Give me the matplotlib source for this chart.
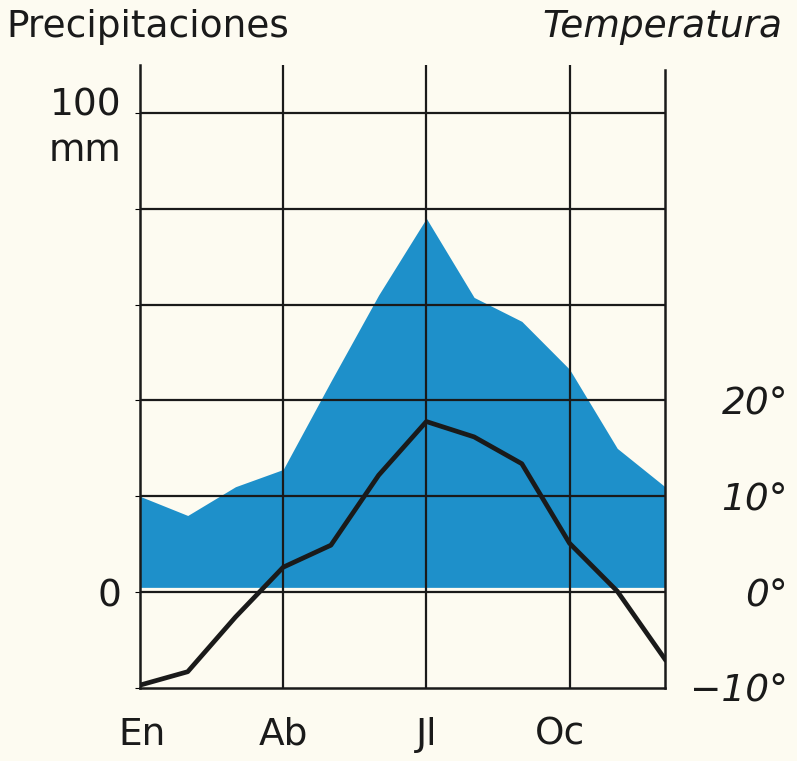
import matplotlib
matplotlib.use("Agg")
import matplotlib.pyplot as plt
import matplotlib.transforms as mtransforms

# ---- data ----
months = list(range(1, 13))
month_ticks = [1, 4, 7, 10]
month_labels = ["En", "Ab", "Jl", "Oc"]
precip_mm = [20, 16, 22, 25.6, 44, 62, 78, 61.5, 56.5, 46.5, 30, 22]
temp_c = [-9.7, -8.3, -2.6, 2.6, 4.9, 12.2, 17.8, 16.2, 13.4, 5.1, 0.1, -7.0]
precip_ticks = [0, 20, 40, 60, 80, 100]
temp_ticks = [-10, 0, 10, 20]
temp_labels = ["\u221210\u00b0", "0\u00b0", "10\u00b0", "20\u00b0"]

bg = "#FDFBF1"
blue = "#1E90CA"
ink = "#1a1a1a"
font = "DejaVu Sans"
fs = 27

fig = plt.figure(figsize=(7.97, 7.61), dpi=100, facecolor=bg)
ax = fig.add_axes([140/797, 73/761, 525/797, 623/761])
ax.set_facecolor(bg)
ax.set_xlim(1, 12)
ax.set_ylim(-20, 110)

# precipitation fill
ax.fill_between(months, 1.0, precip_mm, color=blue, linewidth=0, zorder=1)

# grid
for v in precip_ticks:
    ax.plot([1, 12], [v, v], color=ink, lw=1.6, zorder=2, solid_capstyle="butt")
for m in month_ticks[1:]:
    ax.axvline(m, color=ink, lw=1.6, zorder=2)

ax.spines["top"].set_visible(False)
for s in ["left", "right", "bottom"]:
    ax.spines[s].set_color(ink)
    ax.spines[s].set_linewidth(1.8)
ax.spines["right"].set_bounds(-20, 109)
ax.tick_params(left=False, bottom=False, labelleft=False, labelbottom=False)

# temperature on twin axis
ax2 = ax.twinx()
ax2.set_ylim(-10, 55)
ax2.plot(months, temp_c, color=ink, lw=3.4, zorder=5, solid_joinstyle="round")
for s in ax2.spines.values():
    s.set_visible(False)
ax2.set_yticks(temp_ticks)
ax2.set_yticklabels(temp_labels, fontsize=fs, family=font, style="italic", color=ink)
ax2.tick_params(right=False, pad=85, labelright=True)
for lab in ax2.get_yticklabels():
    lab.set_horizontalalignment("right")

# x labels
xt = mtransforms.blended_transform_factory(ax.transData, ax.transAxes)
for m, lab in zip(month_ticks, month_labels):
    off = 0.05 if lab == "En" else (-0.2 if lab == "Oc" else 0)
    ax.text(m + off, -0.075, lab, transform=xt, ha="center", va="center",
            fontsize=fs, family=font, color=ink)

# left labels
yt = mtransforms.blended_transform_factory(ax.transAxes, ax.transData)
ax.text(-0.035, 101.5, "100", transform=yt, ha="right", va="center", fontsize=fs, family=font, color=ink)
ax.text(-0.035, 92.0, "mm", transform=yt, ha="right", va="center", fontsize=fs, family=font, color=ink)
ax.text(-0.035, -1.0, "0", transform=yt, ha="right", va="center", fontsize=fs, family=font, color=ink)

# titles
fig.text(6/797, 1 - 27/761, "Precipitaciones", ha="left", va="center", fontsize=fs, family=font, color=ink)
fig.text(782/797, 1 - 27/761, "Temperatura", ha="right", va="center", fontsize=fs, family=font,
         style="italic", color=ink)

fig.savefig("out.png", dpi=100, facecolor=bg)
